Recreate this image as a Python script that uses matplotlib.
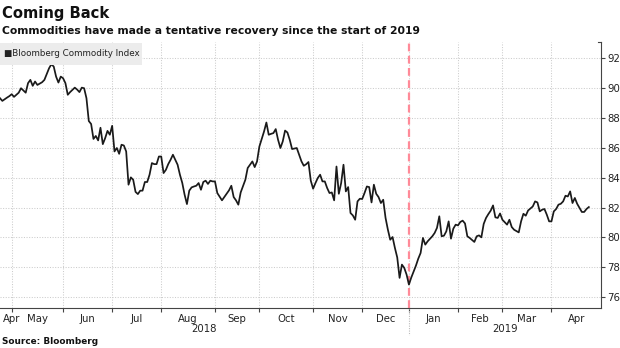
import matplotlib
matplotlib.use('Agg')
import matplotlib.pyplot as plt
import matplotlib.transforms as mtransforms
from matplotlib.patches import Rectangle
import pandas as pd

# Bloomberg Commodity Index, closing levels (trading days only)
dates = [
    '2018-04-24', '2018-04-25', '2018-04-27', '2018-04-30',
    '2018-05-01', '2018-05-02', '2018-05-04', '2018-05-07', '2018-05-09', '2018-05-10', '2018-05-11',
    '2018-05-14', '2018-05-15', '2018-05-16', '2018-05-18', '2018-05-21', '2018-05-23', '2018-05-24',
    '2018-05-25', '2018-05-29', '2018-05-30', '2018-05-31',
    '2018-06-01', '2018-06-04', '2018-06-05', '2018-06-06', '2018-06-08', '2018-06-11', '2018-06-12',
    '2018-06-13', '2018-06-14', '2018-06-15', '2018-06-18', '2018-06-19', '2018-06-20', '2018-06-21',
    '2018-06-22', '2018-06-25', '2018-06-26', '2018-06-27', '2018-06-28', '2018-06-29',
    '2018-07-02', '2018-07-03', '2018-07-05', '2018-07-06', '2018-07-09', '2018-07-10', '2018-07-11',
    '2018-07-12', '2018-07-13', '2018-07-16', '2018-07-17', '2018-07-18', '2018-07-19', '2018-07-20',
    '2018-07-23', '2018-07-24', '2018-07-25', '2018-07-26', '2018-07-27', '2018-07-30', '2018-07-31',
    '2018-08-01', '2018-08-02', '2018-08-03', '2018-08-06', '2018-08-07', '2018-08-08', '2018-08-09',
    '2018-08-10', '2018-08-13', '2018-08-14', '2018-08-15', '2018-08-16', '2018-08-17', '2018-08-20',
    '2018-08-21', '2018-08-22', '2018-08-23', '2018-08-24', '2018-08-27', '2018-08-28', '2018-08-29',
    '2018-08-30', '2018-08-31',
    '2018-09-04', '2018-09-05', '2018-09-07', '2018-09-10', '2018-09-12', '2018-09-13', '2018-09-14',
    '2018-09-17', '2018-09-18', '2018-09-19', '2018-09-21', '2018-09-24', '2018-09-26', '2018-09-27',
    '2018-09-28',
    '2018-10-01', '2018-10-03', '2018-10-04', '2018-10-05', '2018-10-08', '2018-10-09', '2018-10-10',
    '2018-10-11', '2018-10-12', '2018-10-15', '2018-10-16', '2018-10-17', '2018-10-18', '2018-10-19',
    '2018-10-23', '2018-10-24', '2018-10-25', '2018-10-26', '2018-10-29', '2018-10-30', '2018-10-31',
    '2018-11-01', '2018-11-02', '2018-11-05', '2018-11-06', '2018-11-07', '2018-11-08', '2018-11-09',
    '2018-11-12', '2018-11-13', '2018-11-14', '2018-11-15', '2018-11-16', '2018-11-19', '2018-11-20',
    '2018-11-21', '2018-11-23', '2018-11-26', '2018-11-27', '2018-11-28', '2018-11-29', '2018-11-30',
    '2018-12-03', '2018-12-04', '2018-12-05', '2018-12-06', '2018-12-07', '2018-12-10', '2018-12-11',
    '2018-12-12', '2018-12-13', '2018-12-14', '2018-12-17', '2018-12-18', '2018-12-19', '2018-12-20',
    '2018-12-21', '2018-12-24', '2018-12-26', '2018-12-27', '2018-12-28', '2018-12-31',
    '2019-01-02', '2019-01-03', '2019-01-07', '2019-01-08', '2019-01-09', '2019-01-10', '2019-01-11',
    '2019-01-14', '2019-01-16', '2019-01-17', '2019-01-18', '2019-01-22', '2019-01-23', '2019-01-24',
    '2019-01-25', '2019-01-28', '2019-01-29', '2019-01-30', '2019-01-31',
    '2019-02-01', '2019-02-04', '2019-02-05', '2019-02-06', '2019-02-07', '2019-02-08', '2019-02-12',
    '2019-02-13', '2019-02-14', '2019-02-15', '2019-02-19', '2019-02-20', '2019-02-21', '2019-02-22',
    '2019-02-25', '2019-02-26', '2019-02-27', '2019-02-28',
    '2019-03-01', '2019-03-05', '2019-03-06', '2019-03-07', '2019-03-08', '2019-03-12', '2019-03-13',
    '2019-03-14', '2019-03-15', '2019-03-18', '2019-03-20', '2019-03-21', '2019-03-22', '2019-03-25',
    '2019-03-26', '2019-03-27', '2019-03-28', '2019-03-29',
    '2019-04-01', '2019-04-02', '2019-04-03', '2019-04-04', '2019-04-05', '2019-04-08', '2019-04-09',
    '2019-04-10', '2019-04-11', '2019-04-12', '2019-04-15', '2019-04-16', '2019-04-17', '2019-04-18',
    '2019-04-22', '2019-04-23', '2019-04-24',
]
bcom = [
    89.33, 89.15, 89.37, 89.47,
    89.60, 89.42, 89.70, 90.00, 89.70, 90.34, 90.56,
    90.16, 90.45, 90.22, 90.40, 90.56, 91.34, 91.61,
    91.45, 90.78, 90.38, 90.78,
    90.67, 90.34, 89.56, 89.74, 90.04, 89.91, 89.74,
    90.04, 90.00, 89.33, 87.80, 87.60, 86.60, 86.80,
    86.50, 87.35, 86.25, 86.65, 87.14, 86.88,
    87.48, 85.76, 85.99, 85.60, 86.21, 86.16, 85.76,
    83.53, 84.02, 83.86, 83.05, 82.90, 83.13, 83.13,
    83.71, 83.71, 84.20, 84.98, 84.91, 84.91, 85.42,
    85.42, 84.31, 84.53, 84.91, 85.20, 85.54, 85.20,
    84.87, 84.20, 83.65, 82.86, 82.23, 83.13, 83.35,
    83.41, 83.46, 83.64, 83.19, 83.71, 83.80, 83.58,
    83.80, 83.75,
    83.75, 82.97, 82.48, 82.70, 83.15, 83.46, 82.70,
    82.48, 82.19, 83.01, 83.86, 84.65, 85.09, 84.71,
    85.09,
    86.09, 87.10, 87.70, 86.88, 86.94, 86.99, 87.26,
    86.54, 85.99, 86.43, 87.16, 87.03, 86.54, 85.92,
    85.99, 85.54, 85.10, 84.80, 84.90, 85.05, 83.80,
    83.26, 83.64, 83.98, 84.20, 83.75, 83.75, 83.31,
    82.97, 83.01, 82.48, 84.75, 82.92, 83.64, 84.87,
    83.08, 83.37, 81.63, 81.47, 81.18, 82.41, 82.59,
    82.57, 82.97, 83.41, 83.37, 82.34, 83.53, 82.92,
    82.70, 82.30, 82.52, 81.30, 80.51, 79.84, 80.02,
    79.29, 78.65, 77.28, 78.17, 77.95, 77.50,
    76.83, 77.30, 78.10, 78.57, 78.95, 79.96, 79.51,
    79.73, 80.07, 80.29, 80.63, 81.41, 80.07, 80.11,
    80.40, 81.07, 79.91, 80.58, 80.85,
    80.80, 81.03, 81.12, 80.93, 80.07, 79.96, 79.69,
    80.07, 80.13, 80.00, 80.90, 81.30, 81.56, 81.79,
    82.14, 81.34, 81.30, 81.60,
    81.18, 80.85, 81.18, 80.69, 80.51, 80.33, 81.07,
    81.58, 81.45, 81.80, 82.07, 82.41, 82.34, 81.74,
    81.85, 81.90, 81.52, 81.07,
    81.07, 81.74, 81.90, 82.19, 82.25, 82.41, 82.79,
    82.74, 83.08, 82.30, 82.64, 82.25, 81.97, 81.70,
    81.70, 81.90, 82.03,
]

# market holidays - the x axis counts trading days only
holidays = ['2018-05-28', '2018-07-04', '2018-09-03', '2018-11-22', '2018-12-25',
            '2019-01-01', '2019-01-21', '2019-02-18', '2019-04-19']

y_ticks = [76, 78, 80, 82, 84, 86, 88, 90, 92]
month_labels = ['Apr', 'May', 'Jun', 'Jul', 'Aug', 'Sep', 'Oct', 'Nov', 'Dec',
                'Jan', 'Feb', 'Mar', 'Apr']
year_labels = ['2018', '2019']
new_year = '2019-01-02'

title = 'Coming Back'
subtitle = 'Commodities have made a tentative recovery since the start of 2019'
series_name = 'Bloomberg Commodity Index'
source = 'Source: Bloomberg'

W, H = 620, 348

trading_days = pd.bdate_range('2018-04-24', '2019-04-30', freq='C', holidays=holidays)
x = trading_days.searchsorted(pd.to_datetime(dates))

# first trading day of each month (May 2018 onwards) -> month boundaries
firsts = trading_days.to_series().groupby(trading_days.to_period('M')).first()
month_pos = list(trading_days.searchsorted(firsts.values[1:]))
jan_pos = trading_days.searchsorted(pd.Timestamp(new_year))
x_max = x[-1] + 5.2

fig = plt.figure(figsize=(W / 100, H / 100), dpi=100)
ax = fig.add_axes([0, 1 - 308 / H, 601 / W, 266 / H])

grid_kw = dict(color='#cccccc', lw=0.75, ls=(0, (1, 1.5)), zorder=0)
for p in month_pos:
    ax.axvline(p, **grid_kw)
for t in y_ticks:
    ax.axhline(t, **grid_kw)

ax.axvline(jan_pos, color='#ff8a98', lw=1.6, ls=(0, (3.5, 2)), zorder=1)
ax.plot(x, bcom, color='#1a1a1a', lw=1.25, zorder=3)

ax.set_xlim(0, x_max)
ax.set_ylim(75.26, 93.1)

for side in ['left', 'top']:
    ax.spines[side].set_visible(False)
for side in ['bottom', 'right']:
    ax.spines[side].set_color('#444444')
    ax.spines[side].set_linewidth(0.8)

# y axis on the right
ax.yaxis.tick_right()
ax.set_yticks(y_ticks)
ax.tick_params(axis='y', direction='out', length=3, width=0.8, color='#444444',
               pad=1.5, labelsize=7.3, labelcolor='#222222')

# month boundaries get ticks, labels sit in the middle of each month
bounds = [0] + month_pos + [x_max]
mids = [(bounds[i] + bounds[i + 1]) / 2 for i in range(len(bounds) - 1)]
mids[0] = 1.3
ax.set_xticks(month_pos)
ax.set_xticklabels([])
ax.set_xticks(mids, minor=True)
ax.set_xticklabels(month_labels, minor=True)
ax.tick_params(axis='x', which='major', direction='out', length=3, width=0.8, color='#444444')
ax.tick_params(axis='x', which='minor', length=0, pad=4, labelsize=7.3, labelcolor='#222222')
ax.get_xticklabels(minor=True)[0].set_ha('left')

# years under the months, with a separator at the turn of the year
trans = mtransforms.blended_transform_factory(ax.transData, ax.transAxes)
ax.plot([jan_pos, jan_pos], [0, -0.1], transform=trans, color='#bbbbbb', lw=0.8,
        ls=(0, (1, 1.2)), clip_on=False)
ax.text(jan_pos / 2, -0.078, year_labels[0], transform=trans, ha='center', va='center',
        fontsize=7.3, color='#222222')
ax.text((jan_pos + x_max) / 2, -0.078, year_labels[1], transform=trans, ha='center',
        va='center', fontsize=7.3, color='#222222')

# little cap at the top of the right axis
ax.plot([0.995, 1.0], [1.0, 1.0], transform=ax.transAxes, color='#444444', lw=0.8,
        clip_on=False)

# legend box
fig.patches.append(Rectangle((0, 1 - 65 / H), 142 / W, 22 / H, transform=fig.transFigure,
                             facecolor='#ececec', edgecolor='none', zorder=5))
fig.text(4 / W, 1 - 54 / H, '\u25a0' + series_name, fontsize=6.3, color='#222222',
         va='center', ha='left', zorder=6)

fig.text(2 / W, 1 - 13.5 / H, title, fontsize=10.6, fontweight='bold', va='center',
         color='#111111')
fig.text(2 / W, 1 - 31.5 / H, subtitle, fontsize=7.75, fontweight='bold', va='center',
         color='#111111')
fig.text(2 / W, 1 - 342 / H, source, fontsize=6.4, fontweight='bold', va='center',
         color='#111111')

fig.savefig('out.png', dpi=100, facecolor='white')
